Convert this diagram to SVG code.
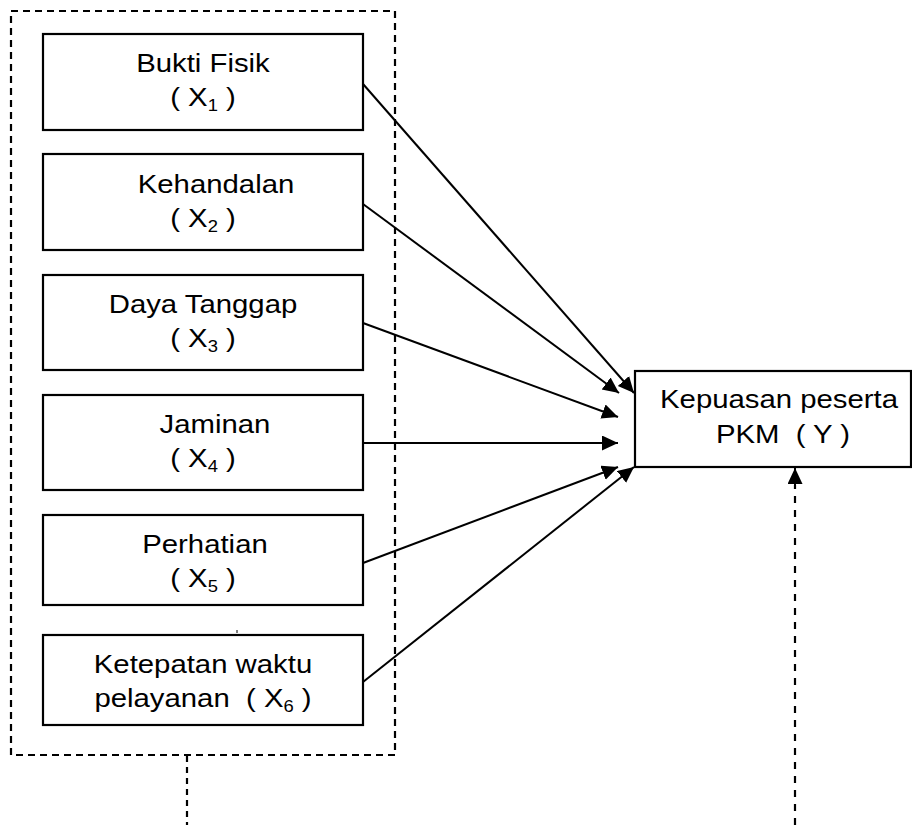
<svg xmlns="http://www.w3.org/2000/svg" width="912" height="825" viewBox="0 0 912 825">
<style>
.box{fill:#fff;stroke:#000;stroke-width:2.2}
.t{font-family:"Liberation Sans",Arial,sans-serif;font-size:25.5px;fill:#000;text-anchor:middle;white-space:pre}
.sub{font-size:16px}
.c{stroke:#000;stroke-width:2;fill:none}
.d{stroke:#000;stroke-width:2.2;fill:none}
</style>
<defs>
<marker id="ah" markerUnits="userSpaceOnUse" markerWidth="17" markerHeight="16" refX="16" refY="7.5" orient="auto" viewBox="0 0 17 16">
<path d="M0,0 L16,7.5 L0,15 z" fill="#000"/>
</marker>
</defs>
<rect x="0" y="0" width="912" height="825" fill="#fff"/>
<g id="group-x">
<rect x="11" y="11" width="384" height="744" class="d" stroke-dasharray="7 5"/>
</g>
<g id="connectors">
<line class="c" x1="363" y1="84" x2="634" y2="393" marker-end="url(#ah)"/>
<line class="c" x1="363" y1="204" x2="619" y2="393" marker-end="url(#ah)"/>
<line class="c" x1="363" y1="323" x2="618" y2="417" marker-end="url(#ah)"/>
<line class="c" x1="363" y1="443" x2="618" y2="443" marker-end="url(#ah)"/>
<line class="c" x1="363" y1="563" x2="618" y2="467" marker-end="url(#ah)"/>
<line class="c" x1="363" y1="682" x2="634" y2="467" marker-end="url(#ah)"/>
<line class="d" x1="187" y1="756" x2="187" y2="825" stroke-dasharray="6 5"/>
<line class="d" x1="795" y1="825" x2="795" y2="485" stroke-dasharray="7 7"/>
<line class="c" x1="795" y1="486" x2="795" y2="468" marker-end="url(#ah)"/>
</g>
<g id="x1">
<rect class="box" x="43" y="34" width="320" height="96"/>
<text class="t" transform="translate(203,72) scale(1.15,1)">Bukti Fisik</text>
<text class="t" transform="translate(203,106) scale(1.15,1)">( X<tspan class="sub" dy="5">1</tspan><tspan dy="-5"> )</tspan></text>
</g>
<g id="x2">
<rect class="box" x="43" y="154" width="320" height="96"/>
<text class="t" transform="translate(216,193) scale(1.15,1)">Kehandalan</text>
<text class="t" transform="translate(203,227) scale(1.15,1)">( X<tspan class="sub" dy="5">2</tspan><tspan dy="-5"> )</tspan></text>
</g>
<g id="x3">
<rect class="box" x="43" y="275" width="320" height="95"/>
<text class="t" transform="translate(203,313) scale(1.15,1)">Daya Tanggap</text>
<text class="t" transform="translate(203,347) scale(1.15,1)">( X<tspan class="sub" dy="5">3</tspan><tspan dy="-5"> )</tspan></text>
</g>
<g id="x4">
<rect class="box" x="43" y="395" width="320" height="95"/>
<text class="t" transform="translate(215,433) scale(1.15,1)">Jaminan</text>
<text class="t" transform="translate(203,467) scale(1.15,1)">( X<tspan class="sub" dy="5">4</tspan><tspan dy="-5"> )</tspan></text>
</g>
<g id="x5">
<rect class="box" x="43" y="515" width="320" height="90"/>
<text class="t" transform="translate(205,553) scale(1.15,1)">Perhatian</text>
<text class="t" transform="translate(203,587) scale(1.15,1)">( X<tspan class="sub" dy="5">5</tspan><tspan dy="-5"> )</tspan></text>
</g>
<line x1="237" y1="630" x2="237" y2="633" stroke="#000" stroke-width="1"/>
<g id="x6">
<rect class="box" x="43" y="635" width="320" height="90"/>
<text class="t" transform="translate(203,673) scale(1.15,1)">Ketepatan waktu</text>
<text class="t" transform="translate(203,707) scale(1.15,1)">pelayanan  ( X<tspan class="sub" dy="5">6</tspan><tspan dy="-5"> )</tspan></text>
</g>
<g id="y">
<rect class="box" x="635" y="371" width="276" height="96"/>
<text class="t" transform="translate(779,408) scale(1.15,1)">Kepuasan peserta</text>
<text class="t" transform="translate(783,443) scale(1.15,1)">PKM  ( Y )</text>
</g>
</svg>
